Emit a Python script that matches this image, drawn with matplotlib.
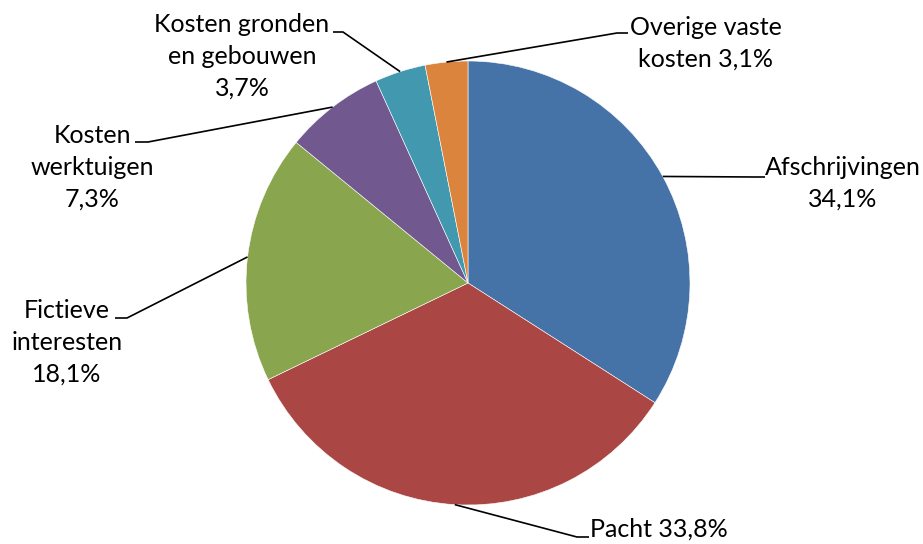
import numpy as np
import matplotlib.pyplot as plt

# Gegevens
categories = ['Afschrijvingen', 'Pacht', 'Fictieve interesten', 'Kosten werktuigen',
              'Kosten gronden en gebouwen', 'Overige vaste kosten']
values = [34.1, 33.8, 18.1, 7.3, 3.7, 3.1]
colors = ['#4572A7', '#AA4643', '#89A54E', '#71588F', '#4198AF', '#DB843D']
label_formats = ['Afschrijvingen\n{}', 'Pacht {}', 'Fictieve\ninteresten\n{}',
                 'Kosten\nwerktuigen\n{}', 'Kosten gronden\nen gebouwen\n{}',
                 'Overige vaste\nkosten {}']

# Layout in pixels (oorsprong linksboven)
W, H = 923, 544
cx, cy = 468, 283
radius = 222
elbows = [(755, 177), (577, 537), (127, 318), (148, 142), (343, 32), (617, 33)]
line_ends = [(765, 177), (589, 537), (115, 318), (135, 142), (333, 32), (628, 33)]
label_pos = [(843, 175), (659, 537), (67, 318), (92, 143), (242, 32), (706, 35)]
pitch = 32
fs = 18

fig = plt.figure(figsize=(W / 100, H / 100), dpi=100)
ax = fig.add_axes([0, 0, 1, 1])

wedges, _ = ax.pie(values, colors=colors, startangle=90, counterclock=False,
                   center=(cx, H - cy), radius=radius,
                   wedgeprops=dict(edgecolor='white', linewidth=0.4))
ax.set_xlim(0, W)
ax.set_ylim(0, H)
ax.set_aspect('auto')
ax.axis('off')

for w, v, fmt, el, en, pos in zip(wedges, values, label_formats, elbows, line_ends, label_pos):
    mid = np.deg2rad((w.theta1 + w.theta2) / 2)
    sx = cx + radius * np.cos(mid)
    sy = (H - cy) + radius * np.sin(mid)
    ax.plot([sx, el[0], en[0]], [sy, H - el[1], H - en[1]], color='black', lw=1.2,
            solid_capstyle='butt')
    txt = fmt.format(f'{v:.1f}'.replace('.', ',') + '%')
    for i, line in enumerate(txt.split('\n')):
        ax.text(pos[0], H - (pos[1] + i * pitch), line, ha='center', va='baseline',
                fontsize=fs, family='Lato', color='black')

fig.savefig('out.png', dpi=100)
